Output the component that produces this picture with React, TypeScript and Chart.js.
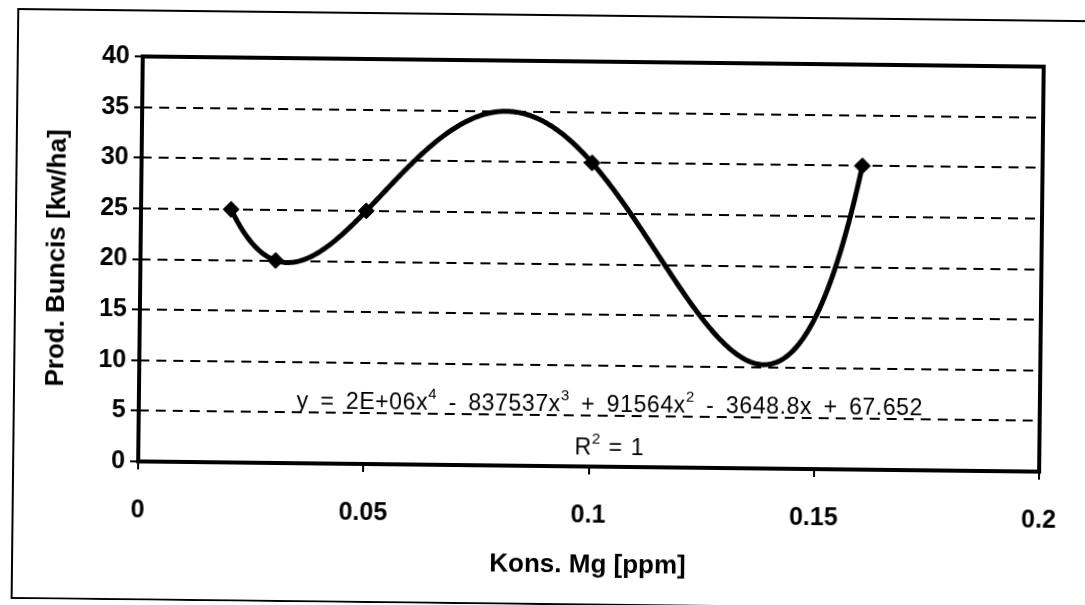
import React, { useEffect, useRef } from "react";
import { Chart, registerables } from "chart.js";

Chart.register(...registerables);

// ---- data ----
const konsMg = [0.02, 0.03, 0.05, 0.1, 0.16];
const prodBuncis = [25, 20, 25, 30, 30];
const xTickValues = [0, 0.05, 0.1, 0.15, 0.2];
const yTickValues = [0, 5, 10, 15, 20, 25, 30, 35, 40];
const xAxisTitle = "Kons. Mg [ppm]";
const yAxisTitle = "Prod. Buncis [kw/ha]";
const equationRuns = [
  { t: "y = 2E+06x" },
  { t: "4", sup: true },
  { t: " - 837537x" },
  { t: "3", sup: true },
  { t: " + 91564x" },
  { t: "2", sup: true },
  { t: " - 3648.8x + 67.652" },
];
const r2Runs = [{ t: "R" }, { t: "2", sup: true }, { t: " = 1" }];

const FONT = '"Liberation Sans", Arial, Helvetica, sans-serif';

// polynomial trendline through the data (order 4 with 5 points = exact fit, R² = 1)
function trendValue(xs: number[], ys: number[], x: number) {
  let s = 0;
  for (let i = 0; i < xs.length; i++) {
    let p = ys[i];
    for (let j = 0; j < xs.length; j++) {
      if (j !== i) p *= (x - xs[j]) / (xs[i] - xs[j]);
    }
    s += p;
  }
  return s;
}

function drawRuns(
  ctx: CanvasRenderingContext2D,
  runs: { t: string; sup?: boolean }[],
  cx: number,
  baseline: number,
  size: number,
  supSize: number,
  raise: number,
  spaceW: number,
  ls: number
) {
  const base = `${size}px ${FONT}`;
  const sup = `${supSize}px ${FONT}`;
  const pieces: { t: string; sup: boolean }[] = [];
  runs.forEach((r) => {
    r.t.split(/( )/).forEach((p) => {
      if (p !== "") pieces.push({ t: p, sup: !!r.sup });
    });
  });
  (ctx as any).letterSpacing = ls + "px";
  const widths = pieces.map((p) => {
    if (p.t === " ") return spaceW;
    ctx.font = p.sup ? sup : base;
    return ctx.measureText(p.t).width;
  });
  const total = widths.reduce((a, b) => a + b, 0);
  let x = cx - total / 2;
  ctx.textAlign = "left";
  ctx.textBaseline = "alphabetic";
  ctx.fillStyle = "#000";
  pieces.forEach((p, i) => {
    if (p.t !== " ") {
      ctx.font = p.sup ? sup : base;
      ctx.fillText(p.t, x, p.sup ? baseline - raise : baseline);
    }
    x += widths[i];
  });
  (ctx as any).letterSpacing = "0px";
}

const framePlugin = {
  id: "outerFrame",
  beforeDraw(chart: any) {
    const ctx = chart.ctx;
    ctx.save();
    ctx.strokeStyle = "#000";
    ctx.lineWidth = 2;
    ctx.strokeRect(15, 15, 1100, 589);
    ctx.restore();
  },
};

const trendPlugin = {
  id: "trendAndBorder",
  beforeDatasetsDraw(chart: any) {
    const { ctx, chartArea: a, scales } = chart;
    const xs = scales.x;
    const ys = scales.y;
    ctx.save();
    const x0 = Math.min(...konsMg);
    const x1 = Math.max(...konsMg);
    const n = 400;
    ctx.beginPath();
    for (let i = 0; i <= n; i++) {
      const xv = x0 + ((x1 - x0) * i) / n;
      const yv = trendValue(konsMg, prodBuncis, xv);
      const px = xs.getPixelForValue(xv);
      const py = ys.getPixelForValue(yv);
      if (i === 0) ctx.moveTo(px, py);
      else ctx.lineTo(px, py);
    }
    ctx.lineWidth = 5;
    ctx.strokeStyle = "#000";
    ctx.lineJoin = "round";
    ctx.lineCap = "round";
    ctx.stroke();
    ctx.lineWidth = 4;
    ctx.lineCap = "butt";
    ctx.lineJoin = "miter";
    ctx.strokeRect(a.left, a.top, a.right - a.left, a.bottom - a.top);
    ctx.restore();
  },
  afterDraw(chart: any) {
    const ctx = chart.ctx;
    ctx.save();
    drawRuns(ctx, equationRuns, 611, 411, 23, 15, 11, 11.5, 0.6);
    drawRuns(ctx, r2Runs, 611, 454, 23, 15, 11, 8, 0.6);
    ctx.restore();
  },
};

export default function App() {
  const ref = useRef<HTMLCanvasElement | null>(null);

  useEffect(() => {
    if (!ref.current) return;
    const tickFont = { family: FONT, size: 25, weight: "bold" as const, lineHeight: 1.2 };
    const titleFont = { family: FONT, size: 26, weight: "bold" as const, lineHeight: 1.2 };
    const chart = new Chart(ref.current, {
      type: "scatter",
      data: {
        datasets: [
          {
            label: "Prod. Buncis",
            data: konsMg.map((x, i) => ({ x, y: prodBuncis[i] })),
            pointStyle: "rectRot",
            pointRadius: 8,
            pointHoverRadius: 8,
            backgroundColor: "#000",
            borderColor: "#000",
            borderWidth: 1,
            showLine: false,
          },
        ],
      },
      options: {
        responsive: false,
        animation: false,
        devicePixelRatio: 1,
        layout: { padding: { top: 61, right: 44, left: 0, bottom: 0 } },
        plugins: {
          legend: { display: false },
          tooltip: { enabled: false },
        },
        scales: {
          x: {
            type: "linear",
            min: 0,
            max: 0.2,
            afterBuildTicks: (s: any) => {
              s.ticks = xTickValues.map((v) => ({ value: v }));
            },
            afterFit: (s: any) => {
              s.height = 139;
            },
            grid: {
              display: true,
              drawOnChartArea: false,
              drawTicks: true,
              tickLength: 8,
              tickWidth: 2,
              tickColor: "#000",
              color: "#000",
              lineWidth: 2,
            },
            border: { display: false },
            ticks: {
              color: "#000",
              font: tickFont,
              padding: 26,
              maxRotation: 0,
              autoSkip: false,
              callback: (v: any) => String(v),
            },
            title: {
              display: true,
              text: xAxisTitle,
              color: "#000",
              font: titleFont,
              padding: { top: 0, bottom: 25 },
            },
          },
          y: {
            type: "linear",
            min: 0,
            max: 40,
            afterBuildTicks: (s: any) => {
              s.ticks = yTickValues.map((v) => ({ value: v }));
            },
            afterFit: (s: any) => {
              s.width = 140;
            },
            grid: {
              color: "#000",
              lineWidth: 2,
              drawTicks: true,
              tickLength: 8,
              tickWidth: 2,
              tickColor: "#000",
              tickBorderDash: [],
            },
            border: { display: false, dash: [10, 7] },
            ticks: {
              color: "#000",
              font: tickFont,
              padding: 5,
              autoSkip: false,
              callback: (v: any) => String(v),
            },
            title: {
              display: true,
              text: yAxisTitle,
              color: "#000",
              font: titleFont,
              padding: { top: 41, bottom: 0 },
            },
          },
        },
      },
      plugins: [framePlugin, trendPlugin],
    });
    return () => chart.destroy();
  }, []);

  return (
    <div
      style={{
        position: "absolute",
        left: 0,
        top: 0,
        width: 1085,
        height: 605,
        transform: "rotate(0.65deg)",
        transformOrigin: "50% 50%",
      }}
    >
      <canvas ref={ref} width={1085} height={605} style={{ display: "block" }} />
    </div>
  );
}
